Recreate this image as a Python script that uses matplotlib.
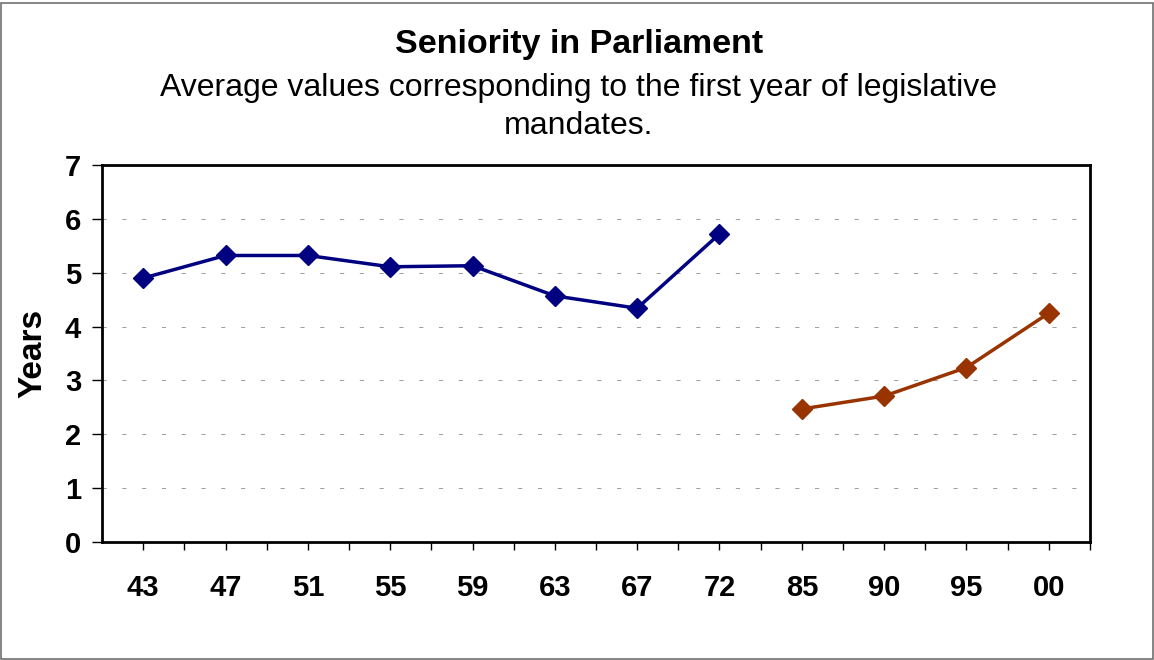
import numpy as np
import matplotlib.pyplot as plt
from matplotlib.patches import Rectangle

# data
labels = ['43', '47', '51', '55', '59', '63', '67', '72', '85', '90', '95', '00']
first_period = [4.90, 5.32, 5.32, 5.11, 5.13, 4.57, 4.34, 5.72]
second_period = [2.47, 2.71, 3.24, 4.25]

plt.rcParams['font.family'] = ['Liberation Sans', 'DejaVu Sans']

fig = plt.figure(figsize=(11.54, 6.6), dpi=100)
W, H = 1154, 660
ax = fig.add_axes([102 / W, 1 - 542 / H, (1090 - 102) / W, (542 - 165) / H])

x = np.arange(len(labels))
x1 = x[:len(first_period)]
x2 = x[len(first_period):]

ax.plot(x1, first_period, color='#000080', lw=2.5, marker='D', ms=10.5,
        zorder=3, clip_on=False)
ax.plot(x2, second_period, color='#993300', lw=2.5, marker='D', ms=10.5,
        zorder=3, clip_on=False)

ax.set_xlim(-0.5, len(labels) - 0.5)
ax.set_ylim(0, 7)
ax.set_yticks(range(0, 8))
ax.set_xticks(x)
ax.set_xticklabels(labels)
ax.set_xticks(x + 0.5, minor=True)
ax.tick_params(axis='x', which='both', length=6, width=1, direction='out', pad=17)
ax.tick_params(axis='y', length=7, width=1, direction='out', pad=8)
for lab in ax.get_xticklabels() + ax.get_yticklabels():
    lab.set_fontsize(21)
    lab.set_fontweight('bold')

for v in range(1, 7):
    ax.axhline(v, color='#a0a0a0', lw=0.75, ls=(0, (4, 15)), zorder=1)

for s in ax.spines.values():
    s.set_linewidth(2)
    s.set_color('black')

ax.set_ylabel('Years', fontsize=24, fontweight='bold', labelpad=12)

fig.text(579 / W, 1 - 45 / H, 'Seniority in Parliament', ha='center', va='center',
         fontsize=24.5, fontweight='bold')
fig.text(579 / W, 1 - 107 / H,
         'Average values corresponding to the first year of legislative\nmandates.',
         ha='center', va='center', fontsize=23, linespacing=1.32)

fig.patches.append(Rectangle((0.001, 0.001), 0.998, 0.994, transform=fig.transFigure,
                             fill=False, edgecolor='#707070', lw=1.2))

fig.savefig('out.png', dpi=100)
